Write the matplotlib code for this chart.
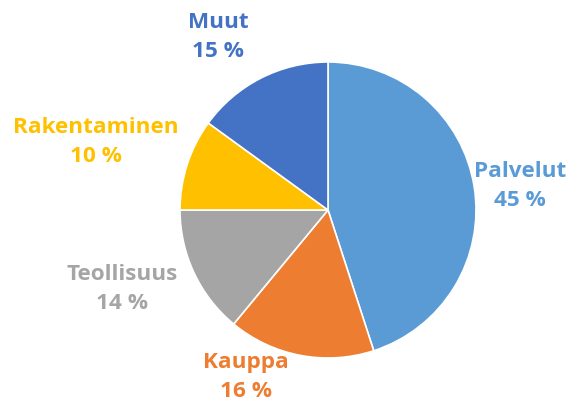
import matplotlib.pyplot as plt

labels = ["Palvelut", "Kauppa", "Teollisuus", "Rakentaminen", "Muut"]
values = [45, 16, 14, 10, 15]
colors = ["#5B9BD5", "#ED7D31", "#A5A5A5", "#FFC000", "#4472C4"]

# label positions (pixels, y from top)
label_pos = [(520, 186), (246, 377), (122, 289), (96, 142), (218, 37)]

fig = plt.figure(figsize=(5.83, 4.05), dpi=100)
ax = fig.add_axes([0, 0, 1, 1])
ax.set_xlim(0, 583)
ax.set_ylim(0, 405)
ax.set_aspect("equal")
ax.axis("off")

ax.pie(values, colors=colors, startangle=90, counterclock=False,
       center=(328, 195), radius=148,
       wedgeprops=dict(edgecolor="white", linewidth=1.2))

for lab, v, c, (x, y) in zip(labels, values, colors, label_pos):
    ax.text(x, 405 - y, f"{lab}\n{v} %", color=c, ha="center", va="center",
            fontsize=16.2, fontweight="bold", family="Open Sans", linespacing=1.5)

ax.set_xlim(0, 583)
ax.set_ylim(0, 405)
fig.savefig("out.png", dpi=100)
